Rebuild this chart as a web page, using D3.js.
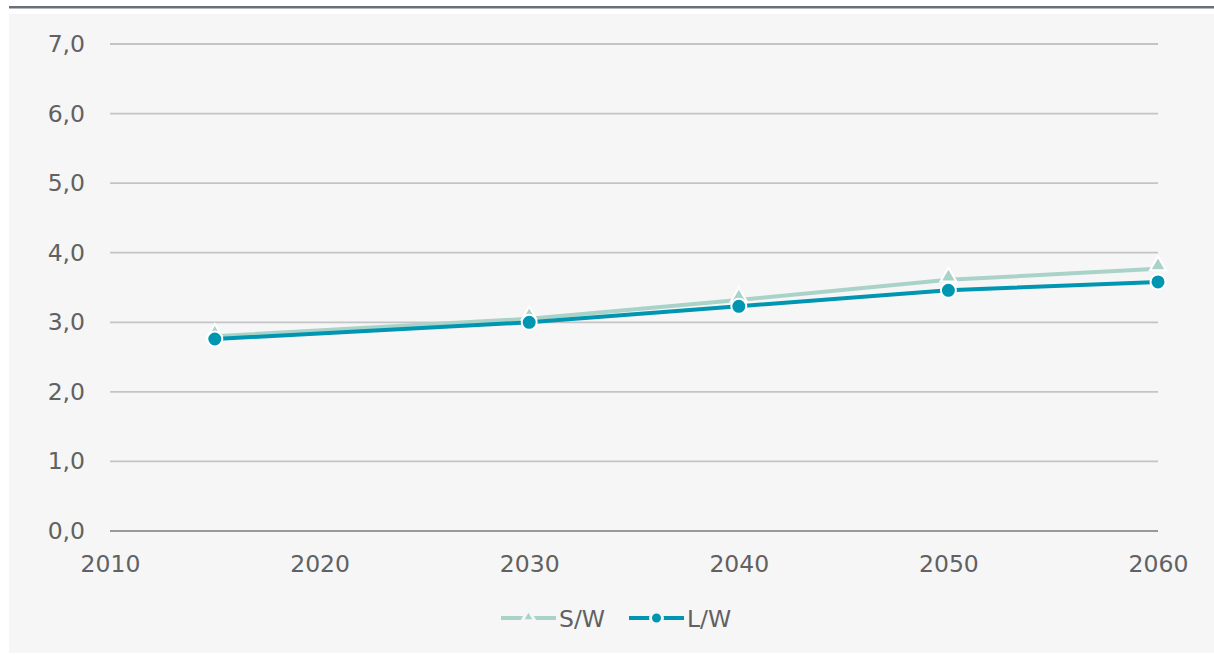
<!DOCTYPE html>
<html>
<head>
<meta charset="utf-8">
<script src="https://cdn.jsdelivr.net/npm/d3@7/dist/d3.min.js"></script>
<style>
  html, body { margin: 0; padding: 0; background: #ffffff; }
  svg { display: block; font-family: "DejaVu Sans", sans-serif; }
</style>
</head>
<body>
<svg id="chart" width="1214" height="655"></svg>
<script>
// Ratio series by year
const years = [2015, 2030, 2040, 2050, 2060];
const swValues = [2.80, 3.05, 3.32, 3.61, 3.77];
const lwValues = [2.76, 3.00, 3.23, 3.46, 3.58];
const yTicks = [0, 1, 2, 3, 4, 5, 6, 7];
const xTicks = [2010, 2020, 2030, 2040, 2050, 2060];
const seriesNames = ["S/W", "L/W"];

const colors = { sw: "#a9d3c8", lw: "#0095b0" };
const textColor = "#616161";
const fontSize = "23.5px";

const svg = d3.select("#chart");

// Frame: top rule and light panel
svg.append("rect").attr("x", 9).attr("y", 14).attr("width", 1205).attr("height", 639).attr("fill", "#f6f6f6");
svg.append("rect").attr("x", 9).attr("y", 6).attr("width", 1205).attr("height", 2.5).attr("fill", "#6a7079");

const x = d3.scaleLinear().domain([2010, 2060]).range([110, 1158]);
const y = d3.scaleLinear().domain([0, 7]).range([531, 44]);

// Horizontal gridlines
const grid = svg.append("g");
grid.selectAll("line").data(yTicks.filter(d => d !== 0)).join("line")
  .attr("x1", x(2010)).attr("x2", x(2060))
  .attr("y1", d => y(d)).attr("y2", d => y(d))
  .attr("stroke", "#c3c4c6").attr("stroke-width", 1.8);

// Baseline
svg.append("line")
  .attr("x1", x(2010)).attr("x2", x(2060))
  .attr("y1", y(0)).attr("y2", y(0))
  .attr("stroke", "#9a9a9a").attr("stroke-width", 1.8);

// Y axis labels
const yAxis = d3.axisLeft(y).tickValues(yTicks).tickSize(0).tickPadding(0)
  .tickFormat(d => d3.format(".1f")(d).replace(".", ","));
const gy = svg.append("g").attr("transform", "translate(85,0)").call(yAxis);
gy.select(".domain").remove();
gy.selectAll("text").attr("fill", textColor).style("font-size", fontSize)
  .style("font-family", "DejaVu Sans, sans-serif");

// X axis labels
const xAxis = d3.axisBottom(x).tickValues(xTicks).tickSize(0).tickPadding(0)
  .tickFormat(d3.format("d"));
const gx = svg.append("g").attr("transform", "translate(0,555)").call(xAxis);
gx.select(".domain").remove();
gx.selectAll("text").attr("fill", textColor).style("font-size", fontSize)
  .style("font-family", "DejaVu Sans, sans-serif");

const line = d3.line().x(d => x(d[0])).y(d => y(d[1]));
const swData = years.map((yr, i) => [yr, swValues[i]]);
const lwData = years.map((yr, i) => [yr, lwValues[i]]);

const tri = d3.symbol().type(d3.symbolTriangle).size(110);

function drawSeries(data, color, marker) {
  const g = svg.append("g");
  g.append("path").datum(data).attr("d", line)
    .attr("fill", "none").attr("stroke", color).attr("stroke-width", 4)
    .attr("stroke-linejoin", "round");
  if (marker === "triangle") {
    g.selectAll("path.m").data(data).join("path").attr("class", "m")
      .attr("d", tri)
      .attr("transform", d => `translate(${x(d[0])},${y(d[1]) - 3})`)
      .attr("fill", color).attr("stroke", "#ffffff").attr("stroke-width", 2);
  } else {
    g.selectAll("circle").data(data).join("circle")
      .attr("cx", d => x(d[0])).attr("cy", d => y(d[1])).attr("r", 7.5)
      .attr("fill", color).attr("stroke", "#ffffff").attr("stroke-width", 2);
  }
}

drawSeries(swData, colors.sw, "triangle");
drawSeries(lwData, colors.lw, "circle");

// Legend
const legend = svg.append("g").attr("transform", "translate(0,618)");
const items = [
  { name: seriesNames[0], color: colors.sw, marker: "triangle", x0: 501 },
  { name: seriesNames[1], color: colors.lw, marker: "circle", x0: 629 }
];
items.forEach(it => {
  const g = legend.append("g").attr("transform", `translate(${it.x0},0)`);
  g.append("line").attr("x1", 0).attr("x2", 55).attr("y1", 0).attr("y2", 0)
    .attr("stroke", it.color).attr("stroke-width", 4);
  if (it.marker === "triangle") {
    g.append("path").attr("d", d3.symbol().type(d3.symbolTriangle).size(70))
      .attr("transform", "translate(27.5,-1)").attr("fill", it.color)
      .attr("stroke", "#f6f6f6").attr("stroke-width", 3);
  } else {
    g.append("circle").attr("cx", 27.5).attr("cy", 0).attr("r", 6)
      .attr("fill", it.color).attr("stroke", "#f6f6f6").attr("stroke-width", 3);
  }
  g.append("text").attr("x", 58).attr("y", 9).text(it.name)
    .attr("fill", textColor).style("font-size", fontSize);
});
</script>
</body>
</html>
